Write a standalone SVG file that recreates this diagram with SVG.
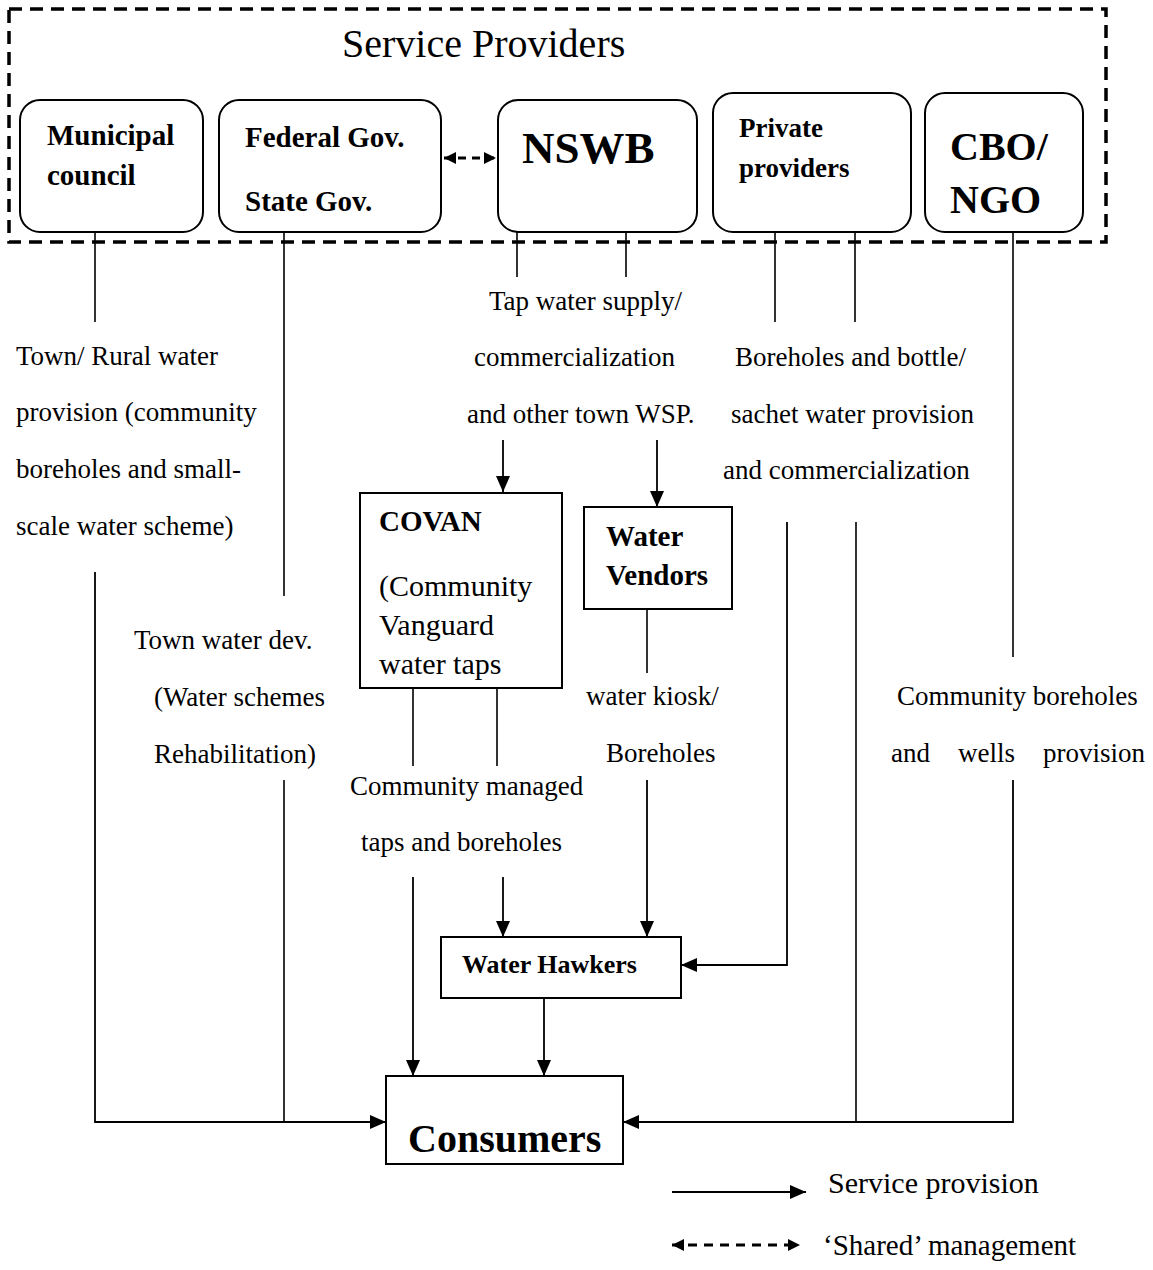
<svg xmlns="http://www.w3.org/2000/svg" width="1153" height="1270" viewBox="0 0 1153 1270">
<defs>
<marker id="ah" markerUnits="userSpaceOnUse" markerWidth="16" markerHeight="14" refX="16" refY="7" orient="auto"><path d="M0,0 L16,7 L0,14 Z" fill="#000"/></marker>
<marker id="ahs" markerUnits="userSpaceOnUse" markerWidth="12" markerHeight="12" refX="12" refY="6" orient="auto-start-reverse"><path d="M0,0 L12,6 L0,12 Z" fill="#000"/></marker>
<style>
.t{font-family:"Liberation Serif","Times New Roman",serif;font-size:27px;fill:#000}
.b{font-family:"Liberation Serif","Times New Roman",serif;font-weight:bold;fill:#000}
.rb{fill:#fff;stroke:#000;stroke-width:2}
.ln{fill:none;stroke:#000;stroke-width:1.6}
.ar{fill:none;stroke:#000;stroke-width:1.8;marker-end:url(#ah)}
</style>
</defs>
<rect width="1153" height="1270" fill="#fff"/>
<g id="container">
<rect x="9" y="9" width="1097" height="233" fill="none" stroke="#000" stroke-width="3.5" stroke-dasharray="13 8"/>
<text class="t" x="342" y="57" style="font-size:40px">Service Providers</text>
</g>
<g id="connectors">
<path class="ln" d="M95,232 V322"/>
<path class="ar" d="M95,572 V1122 H386"/>
<path class="ln" d="M284,232 V596"/>
<path class="ln" d="M284,780 V1122"/>
<path class="ln" d="M517,232 V277 M626,232 V277"/>
<path class="ar" d="M503,440 V492"/>
<path class="ar" d="M657,440 V507"/>
<path class="ln" d="M413,688 V766 M497,688 V766"/>
<path class="ar" d="M413,877 V1076"/>
<path class="ar" d="M503,877 V937"/>
<path class="ln" d="M647,609 V673"/>
<path class="ar" d="M647,780 V937"/>
<path class="ar" d="M544,998 V1076"/>
<path class="ln" d="M775,232 V322 M855,232 V322"/>
<path class="ar" d="M787,522 V965 H681"/>
<path class="ln" d="M856,522 V1122"/>
<path class="ln" d="M1013,232 V657"/>
<path class="ar" d="M1013,780 V1122 H623"/>
<path d="M444,158 H496" fill="none" stroke="#000" stroke-width="3" stroke-dasharray="8 6" marker-start="url(#ahs)" marker-end="url(#ahs)"/>
</g>
<g id="labels">
<text class="t" x="16" y="365">Town/ Rural water</text>
<text class="t" x="16" y="421">provision (community</text>
<text class="t" x="16" y="478">boreholes and small-</text>
<text class="t" x="16" y="535">scale water scheme)</text>
<text class="t" x="134" y="649">Town water dev.</text>
<text class="t" x="154" y="706">(Water schemes</text>
<text class="t" x="154" y="763">Rehabilitation)</text>
<text class="t" x="489" y="310">Tap water supply/</text>
<text class="t" x="474" y="366">commercialization</text>
<text class="t" x="467" y="423">and other town WSP.</text>
<text class="t" x="735" y="366">Boreholes and bottle/</text>
<text class="t" x="731" y="423">sachet water provision</text>
<text class="t" x="723" y="479">and commercialization</text>
<text class="t" x="586" y="705">water kiosk/</text>
<text class="t" x="606" y="762">Boreholes</text>
<text class="t" x="350" y="795">Community managed</text>
<text class="t" x="361" y="851">taps and boreholes</text>
<text class="t" x="897" y="705">Community boreholes</text>
<text class="t" y="762"><tspan x="891">and</tspan><tspan x="958">wells</tspan><tspan x="1043">provision</tspan></text>
</g>
<g id="municipal">
<rect class="rb" x="20" y="100" width="183" height="132" rx="20"/>
<text class="b" x="47" y="145" style="font-size:29px">Municipal</text>
<text class="b" x="47" y="185" style="font-size:29px">council</text>
</g>
<g id="federal">
<rect class="rb" x="219" y="100" width="222" height="132" rx="20"/>
<text class="b" x="245" y="147" style="font-size:29px">Federal Gov.</text>
<text class="b" x="245" y="211" style="font-size:29px">State Gov.</text>
</g>
<g id="nswb">
<rect class="rb" x="498" y="100" width="199" height="132" rx="20"/>
<text class="b" x="522" y="163" style="font-size:45px">NSWB</text>
</g>
<g id="private">
<rect class="rb" x="713" y="93" width="198" height="139" rx="20"/>
<text class="b" x="739" y="137" style="font-size:27px">Private</text>
<text class="b" x="739" y="177" style="font-size:27px">providers</text>
</g>
<g id="cbo">
<rect class="rb" x="925" y="93" width="158" height="139" rx="20"/>
<text class="b" x="950" y="160" style="font-size:40px">CBO/</text>
<text class="b" x="950" y="213" style="font-size:40px">NGO</text>
</g>
<g id="covan">
<rect class="rb" x="360" y="493" width="202" height="195"/>
<text class="b" x="379" y="531" style="font-size:29px">COVAN</text>
<text class="t" x="379" y="596" style="font-size:30px">(Community</text>
<text class="t" x="379" y="635" style="font-size:30px">Vanguard</text>
<text class="t" x="379" y="674" style="font-size:30px">water taps</text>
</g>
<g id="vendors">
<rect class="rb" x="584" y="507" width="148" height="102"/>
<text class="b" x="606" y="546" style="font-size:29px">Water</text>
<text class="b" x="606" y="585" style="font-size:29px">Vendors</text>
</g>
<g id="hawkers">
<rect class="rb" x="441" y="937" width="240" height="61"/>
<text class="b" x="462" y="973" style="font-size:26px">Water Hawkers</text>
</g>
<g id="consumers">
<rect class="rb" x="386" y="1076" width="237" height="88"/>
<text class="b" x="408" y="1152" style="font-size:40px">Consumers</text>
</g>
<g id="legend">
<path class="ar" d="M672,1192 H806"/>
<text class="t" x="828" y="1193" style="font-size:30px">Service provision</text>
<path d="M672,1245 H800" fill="none" stroke="#000" stroke-width="3" stroke-dasharray="9 7" marker-start="url(#ahs)" marker-end="url(#ahs)"/>
<text class="t" x="823" y="1255" style="font-size:29px">‘Shared’ management</text>
</g>
</svg>
